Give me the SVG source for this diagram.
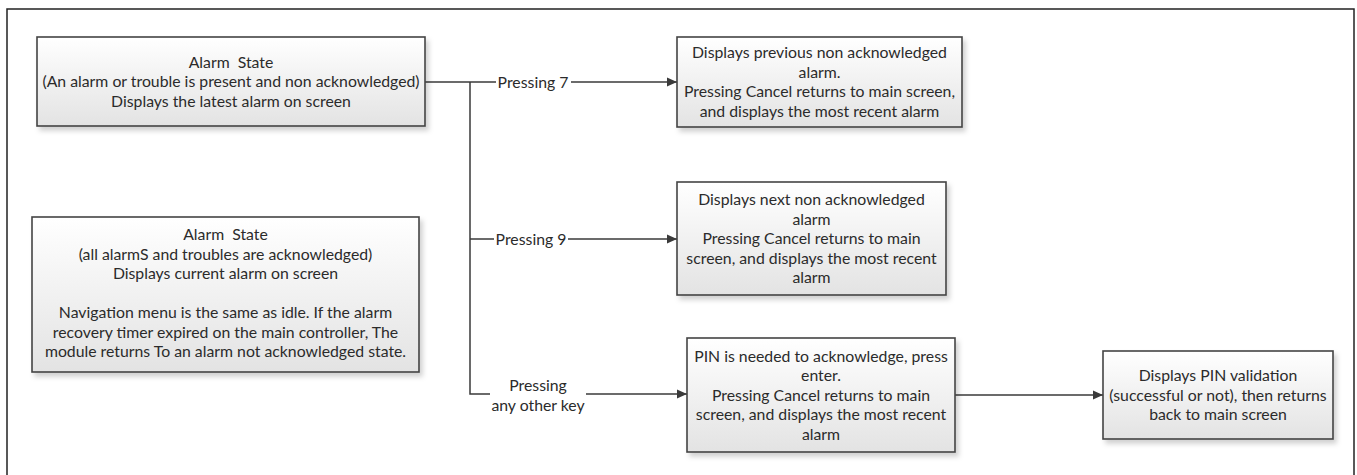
<svg xmlns="http://www.w3.org/2000/svg" width="1357" height="475" viewBox="0 0 1357 475">
<defs>
<linearGradient id="g" x1="0" y1="0" x2="0" y2="1">
<stop offset="0" stop-color="#ffffff"/>
<stop offset="1" stop-color="#e3e3e3"/>
</linearGradient>
<filter id="sh" x="-10%" y="-10%" width="130%" height="140%">
<feDropShadow dx="3" dy="4" stdDeviation="2.5" flood-color="#000" flood-opacity="0.18"/>
</filter>
<marker id="ah" viewBox="0 0 10 10" refX="10" refY="5" markerWidth="10" markerHeight="10" markerUnits="userSpaceOnUse" orient="auto">
<path d="M0,0.5 L10,5 L0,9.5 z" fill="#3a3a3a"/>
</marker>
</defs>
<style>
.box{fill:url(#g);stroke:#444;stroke-width:1.6;filter:url(#sh)}
.t{font-family:Lato,"Liberation Sans",sans-serif;font-size:15.8px;fill:#2b2b2b;text-anchor:middle}
.c{fill:none;stroke:#3a3a3a;stroke-width:1.5}
.lbl{font-family:Lato,"Liberation Sans",sans-serif;font-size:15.8px;fill:#2b2b2b;text-anchor:middle}
</style>
<rect x="0" y="0" width="1357" height="475" fill="#fff"/>
<rect x="7" y="9" width="1347" height="470" fill="none" stroke="#222" stroke-width="1.5"/>

<g id="connectors">
<path class="c" d="M425,82 H496"/>
<path class="c" d="M571,82 H677" marker-end="url(#ah)"/>
<path class="c" d="M470,82 V394 H490"/>
<path class="c" d="M470,239 H494"/>
<path class="c" d="M568,239 H677" marker-end="url(#ah)"/>
<path class="c" d="M586,394 H687" marker-end="url(#ah)"/>
<path class="c" d="M955,395 H1103" marker-end="url(#ah)"/>
<text class="lbl" x="533" y="87.5">Pressing 7</text>
<text class="lbl" x="531" y="244.5">Pressing 9</text>
<text class="lbl" x="538" y="390.5">Pressing</text>
<text class="lbl" x="538" y="410.5">any other key</text>
</g>

<g id="alarm-unack">
<rect class="box" x="37" y="37" width="388" height="89"/>
<text class="t" x="231" y="67.5">Alarm&#160; State</text>
<text class="t" x="231" y="87">(An alarm or trouble is present and non acknowledged)</text>
<text class="t" x="231" y="106.5">Displays the latest alarm on screen</text>
</g>

<g id="alarm-ack">
<rect class="box" x="32" y="217" width="387" height="155"/>
<text class="t" x="225.5" y="240">Alarm&#160; State</text>
<text class="t" x="225.5" y="259.5">(all alarmS and troubles are acknowledged)</text>
<text class="t" x="225.5" y="279">Displays current alarm on screen</text>
<text class="t" x="225.5" y="318">Navigation menu is the same as idle. If the alarm</text>
<text class="t" x="225.5" y="337.5">recovery timer expired on the main controller, The</text>
<text class="t" x="225.5" y="357">module returns To an alarm not acknowledged state.</text>
</g>

<g id="previous">
<rect class="box" x="677" y="37" width="285" height="90"/>
<text class="t" x="819.5" y="58.3">Displays previous non acknowledged</text>
<text class="t" x="819.5" y="77.8">alarm.</text>
<text class="t" x="819.5" y="97.3">Pressing Cancel returns to main screen,</text>
<text class="t" x="819.5" y="116.8">and displays the most recent alarm</text>
</g>

<g id="next">
<rect class="box" x="677" y="182" width="269" height="113"/>
<text class="t" x="811.5" y="205">Displays next non acknowledged</text>
<text class="t" x="811.5" y="224.5">alarm</text>
<text class="t" x="811.5" y="244">Pressing Cancel returns to main</text>
<text class="t" x="811.5" y="263.5">screen, and displays the most recent</text>
<text class="t" x="811.5" y="283">alarm</text>
</g>

<g id="pin">
<rect class="box" x="687" y="338" width="268" height="114"/>
<text class="t" x="821" y="361.5">PIN is needed to acknowledge, press</text>
<text class="t" x="821" y="381">enter.</text>
<text class="t" x="821" y="400.5">Pressing Cancel returns to main</text>
<text class="t" x="821" y="420">screen, and displays the most recent</text>
<text class="t" x="821" y="439.5">alarm</text>
</g>

<g id="validation">
<rect class="box" x="1103" y="351" width="230" height="88"/>
<text class="t" x="1218" y="381">Displays PIN validation</text>
<text class="t" x="1218" y="400.5">(successful or not), then returns</text>
<text class="t" x="1218" y="420">back to main screen</text>
</g>
</svg>
